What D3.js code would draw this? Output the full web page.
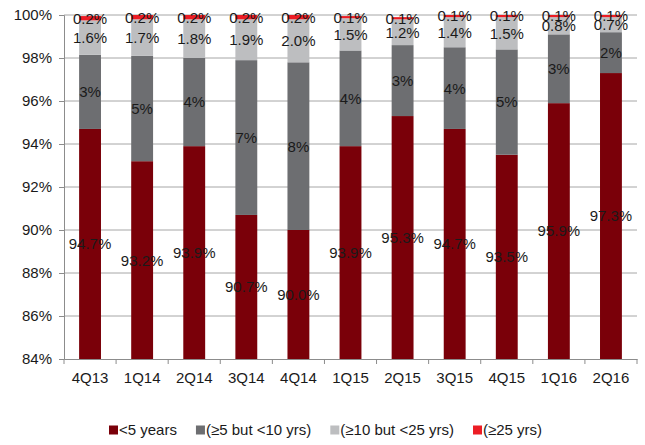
<!DOCTYPE html>
<html>
<head>
<meta charset="utf-8">
<script src="https://cdn.jsdelivr.net/npm/d3@7"></script>
<style>
  html, body { margin: 0; padding: 0; background: #fff; }
  svg { display: block; font-family: "Liberation Sans", Arial, sans-serif; }
</style>
</head>
<body>
<svg id="chart" width="645" height="445"></svg>
<script>
// ---- data ----
const categories = ["4Q13","1Q14","2Q14","3Q14","4Q14","1Q15","2Q15","3Q15","4Q15","1Q16","2Q16"];
const under5   = [94.7, 93.2, 93.9, 90.7, 90.0, 93.9, 95.3, 94.7, 93.5, 95.9, 97.3];
const from5to10  = [3.45, 4.9, 4.1, 7.2, 7.8, 4.45, 3.3, 3.8, 4.9, 3.2, 1.9];
const from10to25 = [1.6, 1.7, 1.8, 1.9, 2.0, 1.5, 1.2, 1.4, 1.5, 0.8, 0.7];
const over25   = [0.2, 0.2, 0.2, 0.2, 0.2, 0.1, 0.1, 0.1, 0.1, 0.1, 0.1];
const seriesNames = ["<5 years", "(\u22655 but <10 yrs)", "(\u226510 but <25 yrs)", "(\u226525 yrs)"];
const yTicks = [84, 86, 88, 90, 92, 94, 96, 98, 100];

const seriesValues = [under5, from5to10, from10to25, over25];
const colors = ["#7A0009", "#6D6E71", "#BDBEC0", "#EC1C24"];
const labelFormats = [d3.format(".1f"), d3.format(".0f"), d3.format(".1f"), d3.format(".1f")];

// ---- layout ----
const svg = d3.select("#chart");
const plotL = 64, plotR = 637, plotT = 15, plotB = 359;

const x = d3.scaleBand().domain(categories).range([plotL, plotR])
  .paddingInner(0.58).paddingOuter(0.29);
const y = d3.scaleLinear().domain([84, 100]).range([plotB, plotT]);

// gridlines
svg.append("g").selectAll("line").data(yTicks.filter(t => t > 84)).join("line")
  .attr("x1", plotL).attr("x2", plotR)
  .attr("y1", d => y(d)).attr("y2", d => y(d))
  .attr("stroke", "#A6A6A6").attr("stroke-width", 1);

// stacked data
const rows = categories.map((c, i) => {
  const o = { cat: c };
  seriesValues.forEach((s, k) => o["s" + k] = s[i]);
  return o;
});
const stack = d3.stack().keys(seriesValues.map((_, k) => "s" + k));
const stacked = stack(rows);

const clampV = v => Math.max(84, Math.min(100, v));

const gBars = svg.append("g");
stacked.forEach((layer, k) => {
  gBars.append("g").attr("fill", colors[k])
    .selectAll("rect").data(layer).join("rect")
    .attr("x", d => x(d.data.cat))
    .attr("width", x.bandwidth())
    .attr("y", d => y(clampV(d[1])))
    .attr("height", d => Math.max(0, y(clampV(d[0])) - y(clampV(d[1]))));
});

// axes
const yAxis = d3.axisLeft(y).tickValues(yTicks).tickSize(5).tickPadding(7)
  .tickFormat(d => d + "%");
const gy = svg.append("g").attr("transform", `translate(${plotL},0)`).call(yAxis);
gy.select(".domain").attr("stroke", "#8C8C8C");
gy.selectAll(".tick line").attr("stroke", "#8C8C8C");
gy.selectAll(".tick text").attr("font-size", 15).attr("fill", "#1a1a1a")
  .attr("font-family", "'Liberation Sans', Arial, sans-serif");

const xAxis = d3.axisBottom(x).tickSize(0).tickPadding(13);
const gx = svg.append("g").attr("transform", `translate(0,${plotB})`).call(xAxis);
gx.select(".domain").attr("stroke", "#8C8C8C");
gx.selectAll(".tick text").attr("font-size", 15).attr("fill", "#1a1a1a")
  .attr("font-family", "'Liberation Sans', Arial, sans-serif");
// category boundary ticks
const step = x.step();
const boundaries = d3.range(categories.length + 1).map(i => x(categories[0]) - x.paddingOuter() * step + i * step);
gx.append("g").selectAll("line").data(boundaries).join("line")
  .attr("x1", d => d).attr("x2", d => d).attr("y1", 0).attr("y2", 5)
  .attr("stroke", "#8C8C8C");

// data labels
const gLabels = svg.append("g").attr("font-size", 15).attr("fill", "#1a1a1a")
  .attr("text-anchor", "middle");
stacked.forEach((layer, k) => {
  gLabels.append("g").selectAll("text").data(layer).join("text")
    .attr("x", d => x(d.data.cat) + x.bandwidth() / 2)
    .attr("y", d => y((clampV(d[0]) + clampV(d[1])) / 2))
    .attr("dy", "0.36em")
    .text((d, i) => labelFormats[k](seriesValues[k][i]) + "%");
});

// legend
const legend = svg.append("g").attr("transform", "translate(109,430)");
let lx = 0;
seriesNames.forEach((name, k) => {
  const g = legend.append("g").attr("transform", `translate(${lx},0)`);
  g.append("rect").attr("x", 0).attr("y", -4.5).attr("width", 9).attr("height", 9).attr("fill", colors[k]);
  const t = g.append("text").attr("x", 10).attr("dy", "0.36em").attr("font-size", 15)
    .attr("fill", "#1a1a1a").text(name);
  lx += 10 + t.node().getComputedTextLength() + 19;
});
</script>
</body>
</html>
